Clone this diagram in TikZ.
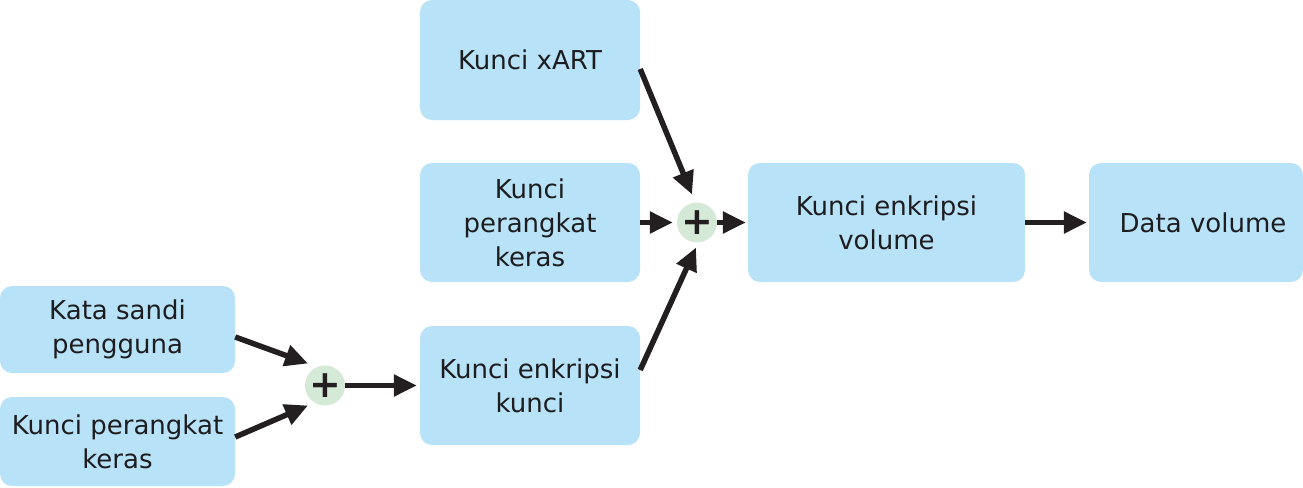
\documentclass[tikz,border=0pt]{standalone}
\usepackage{fontspec}
\setmainfont{DejaVu Sans}
\usetikzlibrary{arrows.meta,calc}
\definecolor{boxblue}{HTML}{B8E2F8}
\definecolor{plusgreen}{HTML}{D4E9D6}
\definecolor{ink}{HTML}{231F20}
\definecolor{txt}{HTML}{1D1D1F}
\begin{document}
\begin{tikzpicture}[x=1pt,y=-1pt,
  box/.style={fill=boxblue, rounded corners=12pt, inner sep=0pt, align=center,
    font=\fontsize{26}{34}\selectfont, text=txt},
  plus/.style={circle, fill=plusgreen, minimum size=40pt, inner sep=0pt,
    font=\bfseries\fontsize{38}{38}\selectfont, text=ink},
  arr/.style={draw=ink, line width=5.5pt, -{Triangle[length=23pt,width=21pt]}}]
\useasboundingbox (0,0) rectangle (1303,487);
\node[box, minimum width=220pt, minimum height=120pt] (kx) at (530,60) {Kunci xART};
\node[box, minimum width=220pt, minimum height=119pt] (kpm) at (530,222.5) {Kunci\\perangkat\\keras};
\node[box, minimum width=220pt, minimum height=119pt] (kek) at (530,385.5) {Kunci enkripsi\\kunci};
\node[box, minimum width=235pt, minimum height=87pt] (ks) at (117.5,329.5) {Kata sandi\\pengguna};
\node[box, minimum width=235pt, minimum height=89pt] (kpl) at (117.5,441.5) {Kunci perangkat\\keras};
\node[box, minimum width=277pt, minimum height=119pt] (kev) at (886.5,222.5) {Kunci enkripsi\\volume};
\node[box, minimum width=214pt, minimum height=119pt] (dv) at (1196,222.5) {\hspace*{14pt}Data volume};
\node[plus] (p1) at (325,385.5) {+};
\node[plus] (p2) at (697,222.5) {+};
\draw[arr] ($(ks.east)+(0,7.5)$) -- ($(p1.center)+(-17,-22)$);
\draw[arr] ($(kpl.east)+(0,-4.5)$) -- ($(p1.center)+(-17,20)$);
\draw[arr, shorten >=3pt] (p1.east) -- (kek.west);
\draw[arr] ($(kx.east)+(0,9)$) -- ($(p2.center)+(-5,-28)$);
\draw[arr, shorten >=4pt] (kpm.east) -- (p2.west);
\draw[arr, shorten >=2pt] (p2.east) -- (kev.west);
\draw[arr] ($(kek.east)+(0,-15.5)$) -- ($(p2.center)+(-1,25)$);
\draw[arr, shorten >=2pt] (kev.east) -- (dv.west);
\end{tikzpicture}
\end{document}
